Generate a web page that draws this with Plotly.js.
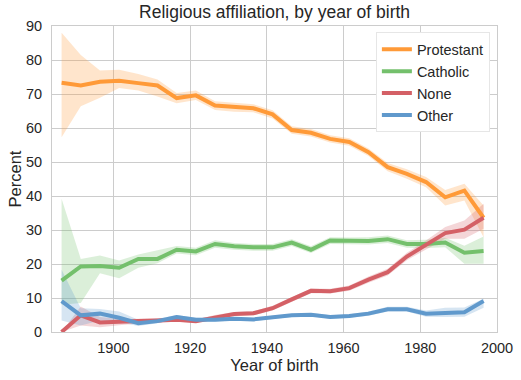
<!DOCTYPE html>
<html>
<head>
<meta charset="utf-8">
<script src="https://cdn.plot.ly/plotly-3.0.1.min.js"></script>
<style>html,body{margin:0;padding:0;background:#fff;}#chart{width:521px;height:380px;}</style>
</head>
<body>
<div id="chart"></div>
<script>
const years = [1886.5, 1891.5, 1896.5, 1901.5, 1906.5, 1911.5, 1916.5, 1921.5, 1926.5, 1931.5, 1936.5, 1941.5,
               1946.5, 1951.5, 1956.5, 1961.5, 1966.5, 1971.5, 1976.5, 1981.5, 1986.5, 1991.5, 1996.5];

const protestant    = [73.3, 72.5, 73.6, 73.9, 73.2, 72.5, 68.8, 69.6, 66.6, 66.1, 65.8, 64.0, 59.4, 58.6, 56.8, 55.9, 52.9, 48.5, 46.5, 44.1, 39.6, 41.6, 33.6];
const protestantLow = [57.3, 66.4, 68.9, 71.8, 71.0, 69.3, 67.3, 68.2, 65.3, 64.8, 64.6, 62.8, 58.3, 57.5, 55.7, 54.8, 51.8, 47.3, 45.1, 42.6, 37.2, 38.7, 27.9];
const protestantHigh= [88.0, 81.5, 76.9, 77.1, 75.9, 74.3, 70.3, 71.0, 67.9, 67.4, 67.0, 65.2, 60.5, 59.7, 57.9, 57.0, 54.0, 49.7, 47.9, 45.6, 41.8, 43.6, 37.2];

const catholic      = [15.1, 19.3, 19.4, 18.9, 21.5, 21.5, 24.2, 23.7, 25.9, 25.2, 24.9, 24.9, 26.3, 24.2, 26.9, 26.8, 26.8, 27.3, 25.9, 25.9, 26.3, 23.3, 23.8];
const catholicLow   = [8.0, 8.5, 17.3, 15.8, 18.9, 20.2, 23.1, 22.6, 24.8, 24.2, 23.9, 23.9, 25.3, 23.2, 25.9, 25.8, 25.7, 26.2, 24.8, 24.7, 24.9, 20.1, 20.1];
const catholicHigh  = [39.2, 21.5, 22.5, 21.0, 22.8, 24.0, 25.3, 24.8, 27.0, 26.2, 25.9, 25.9, 27.3, 25.2, 27.9, 27.8, 27.9, 28.4, 27.0, 27.1, 27.7, 25.4, 28.1];

const none          = [0.0, 4.9, 2.8, 2.9, 3.2, 3.4, 3.6, 3.2, 4.4, 5.3, 5.5, 7.0, 9.6, 12.1, 12.0, 12.9, 15.4, 17.6, 22.2, 25.6, 29.1, 30.1, 33.6];
const noneLow       = [0.0, 1.9, 1.4, 2.0, 2.5, 2.8, 3.0, 2.7, 3.8, 4.7, 4.9, 6.3, 8.9, 11.4, 11.3, 12.1, 14.5, 16.6, 21.1, 24.3, 27.4, 27.4, 30.4];
const noneHigh      = [0.0, 7.5, 4.4, 3.8, 3.9, 4.0, 4.2, 3.7, 5.0, 5.9, 6.1, 7.7, 10.3, 12.8, 12.7, 13.7, 16.3, 18.6, 23.3, 26.9, 30.9, 32.8, 37.7];

const other         = [9.1, 4.9, 5.4, 4.2, 2.6, 3.2, 4.4, 3.6, 3.6, 3.9, 3.7, 4.4, 4.9, 5.1, 4.4, 4.7, 5.4, 6.7, 6.7, 5.4, 5.6, 5.8, 9.1];
const otherLow      = [3.4, 1.9, 3.4, 2.9, 1.8, 2.6, 3.8, 3.1, 3.1, 3.4, 3.2, 3.9, 4.4, 4.6, 3.9, 4.2, 4.8, 6.0, 6.0, 4.5, 4.4, 4.5, 7.1];
const otherHigh     = [18.3, 7.0, 6.8, 6.0, 3.6, 3.9, 5.0, 4.2, 4.1, 4.4, 4.2, 4.9, 5.4, 5.6, 4.9, 5.2, 6.0, 7.4, 7.4, 6.3, 7.1, 7.2, 9.8];

const seriesNames = ["Protestant", "Catholic", "None", "Other"];

const series = [
  {name: seriesNames[0], y: protestant, lo: protestantLow, hi: protestantHigh, line: "rgb(255,154,56)", band: "rgba(255,152,52,0.25)"},
  {name: seriesNames[1], y: catholic,   lo: catholicLow,   hi: catholicHigh,   line: "rgb(116,192,108)", band: "rgba(112,190,104,0.25)"},
  {name: seriesNames[2], y: none,       lo: noneLow,       hi: noneHigh,       line: "rgb(212,96,102)", band: "rgba(210,92,98,0.25)"},
  {name: seriesNames[3], y: other,      lo: otherLow,      hi: otherHigh,      line: "rgb(96,153,204)", band: "rgba(92,150,202,0.25)"}
];

const traces = [];
series.forEach(s => {
  traces.push({
    x: years.concat(years.slice().reverse()),
    y: s.hi.concat(s.lo.slice().reverse()),
    type: "scatter", mode: "lines", fill: "toself",
    fillcolor: s.band, line: {width: 0, color: s.band},
    hoverinfo: "skip", showlegend: false, legendgroup: s.name
  });
});
series.forEach(s => {
  traces.push({
    x: years, y: s.y, name: s.name, type: "scatter", mode: "lines",
    line: {color: s.line, width: 4}, legendgroup: s.name
  });
});

const txt = "#262626";
const layout = {
  width: 521, height: 380,
  margin: {l: 52, r: 24, t: 26, b: 48, pad: 0},
  paper_bgcolor: "#ffffff", plot_bgcolor: "#ffffff",
  font: {family: "Liberation Sans, Arial, sans-serif", color: txt, size: 14},
  title: {text: "Religious affiliation, by year of birth", font: {size: 17.5, color: txt}, x: 0.527, xanchor: "center", y: 0.968, yanchor: "middle"},
  xaxis: {
    range: [1884, 2000], tickvals: [1900, 1920, 1940, 1960, 1980, 2000],
    showgrid: true, gridcolor: "#cccccc", gridwidth: 1, zeroline: false,
    showline: true, linecolor: "#cccccc", linewidth: 1, mirror: true,
    ticks: "outside", ticklen: 3, tickcolor: "rgba(0,0,0,0)",
    tickfont: {size: 14.5, color: txt},
    title: {text: "Year of birth", font: {size: 16.5, color: txt}, standoff: 2}
  },
  yaxis: {
    range: [0, 90], tickvals: [0, 10, 20, 30, 40, 50, 60, 70, 80, 90],
    showgrid: true, gridcolor: "#cccccc", gridwidth: 1, zeroline: false,
    showline: true, linecolor: "#cccccc", linewidth: 1, mirror: true,
    ticks: "outside", ticklen: 6, tickcolor: "rgba(0,0,0,0)",
    tickfont: {size: 14.5, color: txt},
    title: {text: "Percent", font: {size: 16.5, color: txt}, standoff: 0}
  },
  showlegend: true,
  legend: {
    x: 0.984, xanchor: "right", y: 0.979, yanchor: "top",
    bgcolor: "#ffffff", bordercolor: "#e6e6e6", borderwidth: 1,
    font: {size: 14.5, color: txt}, traceorder: "grouped", tracegroupgap: 0
  }
};

Plotly.newPlot("chart", traces, layout, {displayModeBar: false, staticPlot: true});
</script>
</body>
</html>
